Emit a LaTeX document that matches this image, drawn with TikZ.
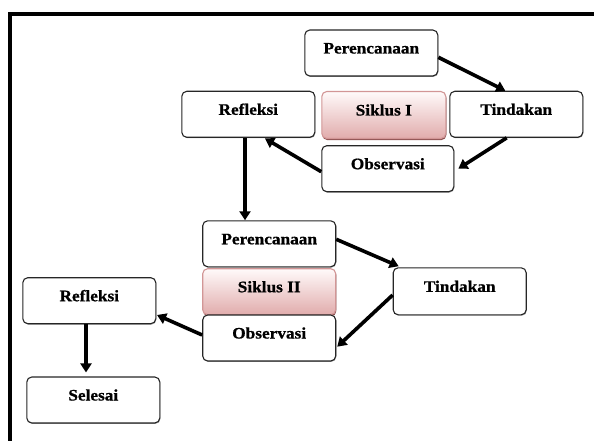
\documentclass[tikz,border=0pt]{standalone}
\usepackage{fontspec}
\newfontfamily\boxfont[FakeStretch=1.08, BoldFeatures={FakeBold=0.8}]{Liberation Serif}
\usetikzlibrary{arrows.meta,calc,shadows}
\definecolor{sikborder}{RGB}{210,150,150}
\definecolor{siktop}{RGB}{255,250,250}
\definecolor{sikbot}{RGB}{225,172,172}
\definecolor{sikshadow}{RGB}{120,45,45}
\begin{document}
\begin{tikzpicture}[x=1pt,y=-1pt,
  box/.style={draw=black!85, line width=1.1pt, rounded corners=5pt, fill=white,
    minimum width=133pt, minimum height=46pt, inner sep=0pt,
    text height=9pt, text depth=8pt,
    font=\boxfont\bfseries\fontsize{16}{19}\selectfont,
    drop shadow={shadow xshift=0.6pt, shadow yshift=-0.9pt, fill=black!60, opacity=0.6}},
  sik/.style={box, draw=sikborder, top color=siktop, bottom color=sikbot,
    drop shadow={shadow xshift=0.5pt, shadow yshift=-1.6pt, fill=sikshadow, opacity=0.8}},
  arr/.style={line width=3.6pt, -{Triangle[length=9pt,width=11pt]}}
]
\useasboundingbox (0,0) rectangle (594,441);
% frame
\fill[black] (8,12) rectangle (594,16);
\fill[black] (8,12) rectangle (12,441);

% cycle I
\node[box] (per1) at (371.3,53) {Perencanaan};
\node[box] (refl1) at (248.3,114.3) {Refleksi};
\node[sik, minimum width=124pt, minimum height=47pt] (sik1) at (383.8,115) {Siklus I};
\node[box] (tind1) at (516.3,114.3) {Tindakan};
\node[box, minimum width=132pt] (obs1) at (387.8,168.7) {Observasi};

% cycle II
\node[box] (per2) at (269.2,243.8) {Perencanaan};
\node[sik] (sik2) at (269.2,291.7) {Siklus II};
\node[box] (obs2) at (269.2,338) {Observasi};
\node[box, minimum height=47pt] (tind2) at (459.7,291.3) {Tindakan};
\node[box] (refl2) at (89.3,300.7) {Refleksi};
\node[box] (sel) at (93.3,400) {Selesai};

% arrows cycle I
\draw[arr] ($(per1.east)+(0,4.3)$) -- ($(tind1.north)+(-11,0)$);
\draw[arr] ($(tind1.south)+(-9.6,0)$) -- ($(obs1.east)+(4,0)$);
\draw[arr] ($(obs1.west)+(0,3)$) -- ($(refl1.south)+(16.7,0.6)$);
\coordinate (r1) at ($(refl1.south)+(-3.3,0)$);
\draw[arr] (r1) -- (r1 |- per2.north);

% arrows cycle II
\draw[arr] ($(per2.east)+(0,-4.5)$) -- ($(tind2.north west)+(6,-1)$);
\draw[arr] ($(tind2.west)+(0,3.7)$) -- ($(obs2.east)+(1,8.7)$);
\draw[arr] ($(obs2.west)+(0,-3)$) -- ($(refl2.east)+(0.7,14.3)$);
\coordinate (r2) at ($(refl2.south)+(-3.3,0)$);
\draw[arr] (r2) -- ($(r2 |- sel.north)+(0,-4)$);
\end{tikzpicture}
\end{document}
